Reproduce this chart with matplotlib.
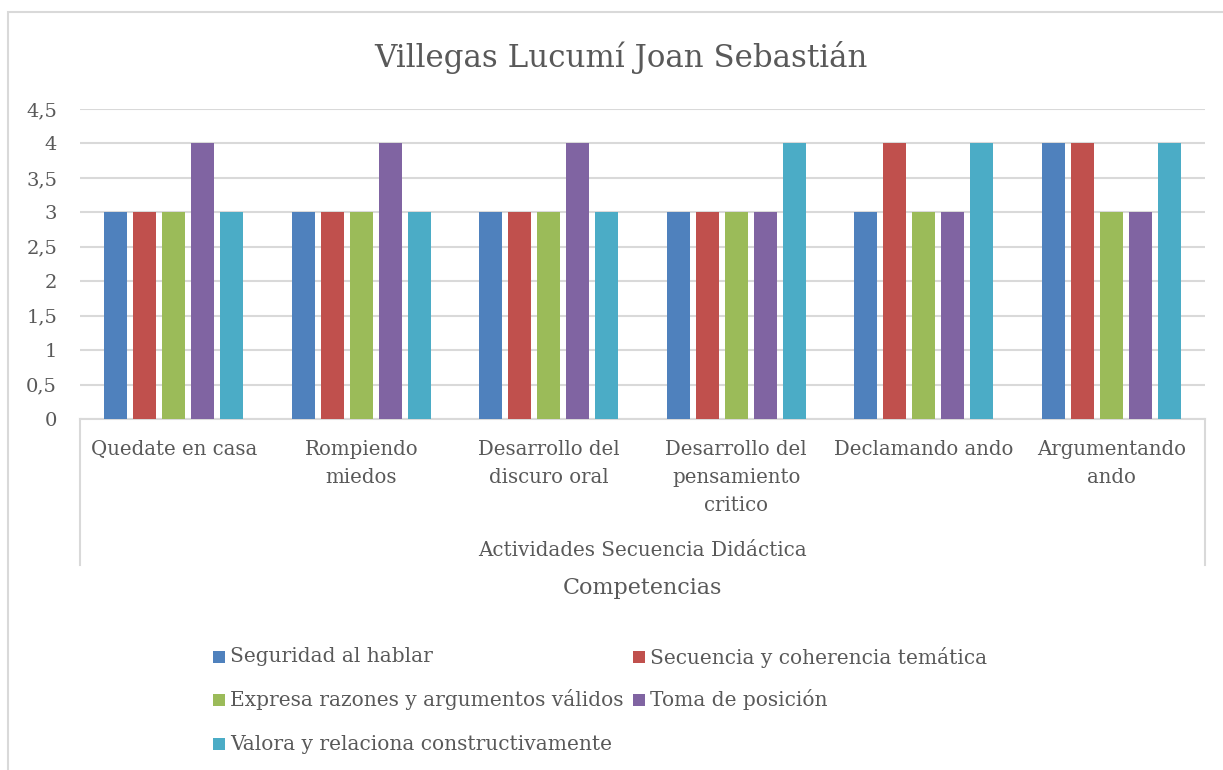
import matplotlib.pyplot as plt
import numpy as np
from matplotlib.patches import Rectangle
from matplotlib.ticker import FuncFormatter


CATEGORIES = [
    "Quedate en casa",
    "Rompiendo\nmiedos",
    "Desarrollo del\ndiscuro oral",
    "Desarrollo del\npensamiento\ncritico",
    "Declamando ando",
    "Argumentando\nando",
]

SERIES = [
    "Seguridad al hablar",
    "Secuencia y coherencia temática",
    "Expresa razones y argumentos válidos",
    "Toma de posición",
    "Valora y relaciona constructivamente",
]

SEGURIDAD = [3, 3, 3, 3, 3, 4]
SECUENCIA = [3, 3, 3, 3, 4, 4]
EXPRESA = [3, 3, 3, 3, 3, 3]
TOMA = [4, 4, 4, 3, 3, 3]
VALORA = [3, 3, 3, 4, 4, 4]

VALUES = [SEGURIDAD, SECUENCIA, EXPRESA, TOMA, VALORA]
COLORS = ["#4F81BD", "#C0504D", "#9BBB59", "#8064A2", "#4BACC6"]

TEXT = "#595959"
GRID = "#D9D9D9"


def main() -> None:
    plt.rcParams.update(
        {
            "font.family": "DejaVu Serif",
            "font.size": 14,
        }
    )

    W, H = 1223, 770
    fig = plt.figure(figsize=(W / 100, H / 100), dpi=100)

    # outer chart border (top and left visible)
    fig.add_artist(
        Rectangle((8 / W, -0.05), 1.2, 1 - 11.5 / H + 0.05, transform=fig.transFigure,
                  fill=False, edgecolor=GRID, linewidth=1.5)
    )

    left, right, y0, y45 = 80, 1205, 419, 109
    ax = fig.add_axes([left / W, 1 - y0 / H, (right - left) / W, (y0 - y45) / H])

    x = np.arange(len(CATEGORIES))
    width = 0.123
    step = 0.155
    for i, (vals, color) in enumerate(zip(VALUES, COLORS)):
        ax.bar(x + (i - 2) * step, vals, width, color=color, label=SERIES[i], zorder=3)

    ax.set_xlim(-0.5, len(CATEGORIES) - 0.5)
    ax.set_ylim(0, 4.5)
    ax.set_yticks(np.arange(0, 4.51, 0.5))
    ax.yaxis.set_major_formatter(
        FuncFormatter(lambda v, _: f"{v:g}".replace(".", ","))
    )
    ax.grid(True, axis="y", color=GRID, linewidth=1.5, zorder=0)
    ax.set_axisbelow(True)
    for side in ("left", "right", "top"):
        ax.spines[side].set_visible(False)
    ax.spines["bottom"].set_color(GRID)
    ax.spines["bottom"].set_linewidth(1.5)

    ax.set_xticks(x)
    ax.set_xticklabels(CATEGORIES, linespacing=1.6)
    ax.tick_params(axis="x", length=0, pad=15, colors=TEXT, labelsize=14.2)
    ax.tick_params(axis="y", length=0, pad=16.5, colors=TEXT, labelsize=14)

    # multi-level category axis borders
    depth = (565 - y0) / (y0 - y45)
    for xa in (0, 1):
        ax.plot([xa, xa], [0, -depth], transform=ax.transAxes, color=GRID,
                linewidth=1.5, clip_on=False)

    fig.text(621 / W, 1 - 57 / H, "Villegas Lucumí Joan Sebastián", ha="center",
             va="center", fontsize=22.2, color=TEXT)
    fig.text((left + right) / 2 / W, 1 - 551 / H, "Actividades Secuencia Didáctica",
             ha="center", va="center", fontsize=14.3, color=TEXT)
    fig.text((left + right) / 2 / W, 1 - 588 / H, "Competencias", ha="center",
             va="center", fontsize=16, color=TEXT)

    # legend, filled row by row like the original
    col_x = [213, 633]
    row_y = [657, 700, 744]
    sq = 12
    for i, (name, color) in enumerate(zip(SERIES, COLORS)):
        cx = col_x[i % 2]
        cy = row_y[i // 2]
        fig.add_artist(
            Rectangle((cx / W, 1 - (cy + sq / 2) / H), sq / W, sq / H,
                      transform=fig.transFigure, facecolor=color, edgecolor="none")
        )
        fig.text((cx + sq + 5) / W, 1 - cy / H, name, ha="left", va="center",
                 fontsize=14.5, color=TEXT)

    fig.savefig("out.png", dpi=100, facecolor="white")
    plt.close(fig)


if __name__ == "__main__":
    main()
